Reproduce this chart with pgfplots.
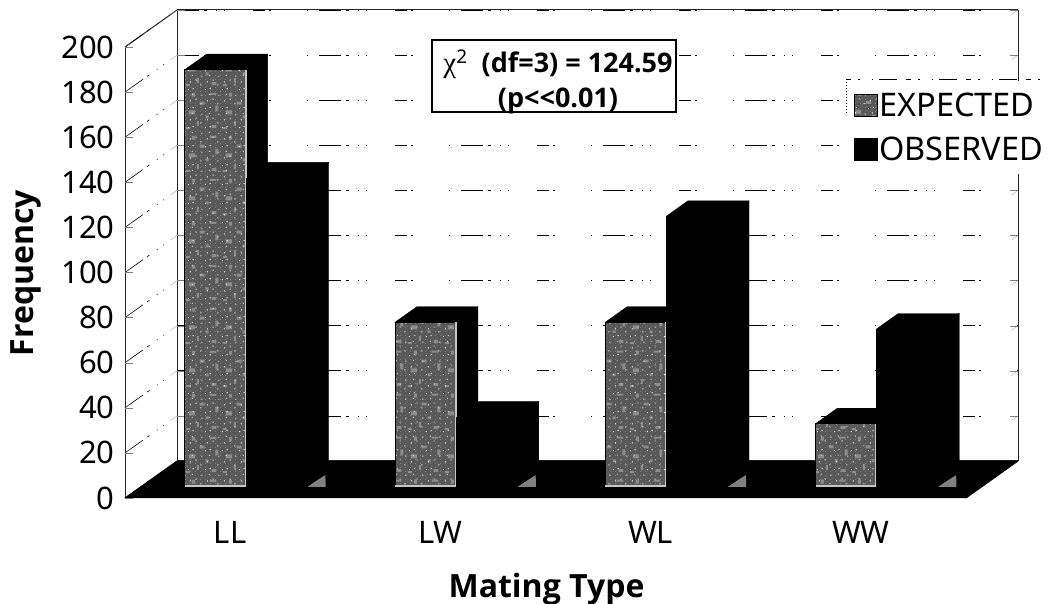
\documentclass[border=0pt]{standalone}
\usepackage{fontspec}
\usepackage{pgfplots}
\pgfplotsset{compat=1.18}
\usetikzlibrary{patterns}
\setmainfont{Noto Sans}
\newfontfamily\boldlabel{Open Sans}
\newfontfamily\symfont{Liberation Serif}

\pgfdeclarepatternformonly{gritblotch}{\pgfqpoint{0pt}{0pt}}{\pgfqpoint{37pt}{43pt}}{\pgfqpoint{37pt}{43pt}}{
  \pgfpathrectangle{\pgfqpoint{1pt}{2pt}}{\pgfqpoint{4pt}{2pt}}
  \pgfpathrectangle{\pgfqpoint{12pt}{5pt}}{\pgfqpoint{2pt}{5pt}}
  \pgfpathrectangle{\pgfqpoint{27pt}{3pt}}{\pgfqpoint{5pt}{3pt}}
  \pgfpathrectangle{\pgfqpoint{21pt}{13pt}}{\pgfqpoint{3pt}{3pt}}
  \pgfpathrectangle{\pgfqpoint{4pt}{17pt}}{\pgfqpoint{6pt}{4pt}}
  \pgfpathrectangle{\pgfqpoint{31pt}{20pt}}{\pgfqpoint{3pt}{6pt}}
  \pgfpathrectangle{\pgfqpoint{15pt}{27pt}}{\pgfqpoint{5pt}{3pt}}
  \pgfpathrectangle{\pgfqpoint{7pt}{35pt}}{\pgfqpoint{3pt}{4pt}}
  \pgfpathrectangle{\pgfqpoint{25pt}{37pt}}{\pgfqpoint{7pt}{2pt}}
  \pgfusepath{fill}
}
\pgfdeclarepatternformonly{gritfine}{\pgfqpoint{0pt}{0pt}}{\pgfqpoint{5pt}{4pt}}{\pgfqpoint{5pt}{4pt}}{
  \pgfpathrectangle{\pgfqpoint{0pt}{0pt}}{\pgfqpoint{1pt}{1pt}}
  \pgfpathrectangle{\pgfqpoint{2pt}{2pt}}{\pgfqpoint{1pt}{1pt}}
  \pgfusepath{fill}
}
\pgfdeclarepatternformonly{gritspeck}{\pgfqpoint{0pt}{0pt}}{\pgfqpoint{17pt}{19pt}}{\pgfqpoint{17pt}{19pt}}{
  \pgfpathrectangle{\pgfqpoint{1pt}{1pt}}{\pgfqpoint{1pt}{1pt}}
  \pgfpathrectangle{\pgfqpoint{6pt}{2pt}}{\pgfqpoint{1pt}{1pt}}
  \pgfpathrectangle{\pgfqpoint{14pt}{6pt}}{\pgfqpoint{1pt}{1pt}}
  \pgfpathrectangle{\pgfqpoint{3pt}{9pt}}{\pgfqpoint{1pt}{1pt}}
  \pgfpathrectangle{\pgfqpoint{9pt}{11pt}}{\pgfqpoint{1pt}{1pt}}
  \pgfpathrectangle{\pgfqpoint{15pt}{15pt}}{\pgfqpoint{1pt}{1pt}}
  \pgfpathrectangle{\pgfqpoint{5pt}{16pt}}{\pgfqpoint{1pt}{1pt}}
  \pgfusepath{fill}
}

\tikzset{
  expected/.style={fill=black!66, draw=black, line width=.7pt,
    postaction={pattern=gritfine, pattern color=gray},
    postaction={pattern=gritblotch, pattern color=gray!90},
    postaction={pattern=gritspeck, pattern color=white}},
}

% side and top of one bar: x from #1 to #2, height #3
\newcommand{\barsides}[3]{
  \addplot3[fill=black, draw=black, forget plot] coordinates {(#2,0.3,0) (#2,0.72,0) (#2,0.72,#3) (#2,0.3,#3)} -- cycle;
  \addplot3[fill=black, draw=black, forget plot] coordinates {(#1,0.3,#3) (#1,0.72,#3) (#2,0.72,#3) (#2,0.3,#3)} -- cycle;
}
% light bottom and right edge of a textured face
\newcommand{\barrim}[3]{
  \addplot3[gray!45, line width=2pt, forget plot] coordinates {(#1,0.3,0.5) (#2,0.3,0.5) (#2,0.3,#3)};
}
% grey glint on the floor beside a bar
\newcommand{\glint}[1]{
  \addplot3[fill=gray, draw=none, forget plot] coordinates {(#1,0.3,0) (#1+0.01,0.62,0) (#1+0.09,0.3,0)} -- cycle;
}

\begin{document}
\begin{tikzpicture}
\path[use as bounding box] (0,0) rectangle (1051pt,604pt);
\begin{axis}[
    at={(125pt,106pt)}, anchor=south west,
    x={(210.25pt,0pt)}, y={(52pt,37pt)}, z={(0pt,2.255pt)},
    xmin=-0.5, xmax=3.5, ymin=0, ymax=1, zmin=0, zmax=200,
    xtick={0,1,2,3}, xticklabels={LL,LW,WL,WW},
    ytick=\empty,
    ztick={0,20,...,200},
    zmajorgrids,
    z grid style={black, line width=.6pt, dash pattern=on 22pt off 5pt on 3pt off 9pt on 1pt off 7pt on 1pt off 28pt on 12pt off 4pt on 2pt off 36pt on 1pt off 11pt},
    axis line style={black!85, line width=1pt},
    major tick length=8pt,
    x tick style={draw=none},
    tick label style={font=\fontsize{31}{31}\selectfont},
    x tick label style={anchor=north, yshift=-20pt},
    z tick label style={anchor=east, xshift=-7pt},
    /pgf/number format/assume math mode=true,
    xlabel={Mating Type}, zlabel={Frequency},
    xlabel style={at={(axis description cs:0.472,-0.186)}, anchor=center, font=\fontsize{32}{32}\selectfont\boldlabel\bfseries},
    zlabel style={at={(axis description cs:-0.111,0.461)}, rotate=0, anchor=center, font=\fontsize{32}{32}\selectfont\boldlabel\bfseries},
    legend style={at={(axis description cs:0.809,0.855)}, anchor=north west, draw=none, fill=white,
      font=\fontsize{32.5}{32.5}\selectfont, row sep=15pt, inner xsep=6pt, inner ysep=10pt,
      /tikz/every even column/.style={column sep=14pt}},
    legend cell align=left,
    legend image code/.code={\path[#1] (0pt,-11pt) rectangle (23pt,11pt);},
    clip=false,
]
% floor
\addplot3[fill=black, draw=black, forget plot] coordinates {(-0.5,0,0) (3.5,0,0) (3.5,1,0) (-0.5,1,0)} -- cycle;
\glint{0.29}
\glint{1.29}
\glint{2.29}
\glint{3.29}

% bars: sides first
\barsides{-0.29}{0}{185}
\barsides{0}{0.29}{137}
\barsides{0.71}{1}{73}
\barsides{1}{1.29}{31}
\barsides{1.71}{2}{73}
\barsides{2}{2.29}{120}
\barsides{2.71}{3}{28}
\barsides{3}{3.29}{70}

% EXPECTED front faces
\addplot3[expected] coordinates {(-0.29,0.3,0) (0,0.3,0) (0,0.3,185) (-0.29,0.3,185)} -- cycle;
\addlegendentry{EXPECTED}
\addplot3[expected, forget plot] coordinates {(0.71,0.3,0) (1,0.3,0) (1,0.3,73) (0.71,0.3,73)} -- cycle;
\addplot3[expected, forget plot] coordinates {(1.71,0.3,0) (2,0.3,0) (2,0.3,73) (1.71,0.3,73)} -- cycle;
\addplot3[expected, forget plot] coordinates {(2.71,0.3,0) (3,0.3,0) (3,0.3,28) (2.71,0.3,28)} -- cycle;
\barrim{-0.29}{0}{185}
\barrim{0.71}{1}{73}
\barrim{1.71}{2}{73}
\barrim{2.71}{3}{28}

% OBSERVED front faces
\addplot3[fill=black, draw=black] coordinates {(0,0.3,0) (0.29,0.3,0) (0.29,0.3,137) (0,0.3,137)} -- cycle;
\addlegendentry{OBSERVED}
\addplot3[fill=black, draw=black, forget plot] coordinates {(1,0.3,0) (1.29,0.3,0) (1.29,0.3,31) (1,0.3,31)} -- cycle;
\addplot3[fill=black, draw=black, forget plot] coordinates {(2,0.3,0) (2.29,0.3,0) (2.29,0.3,120) (2,0.3,120)} -- cycle;
\addplot3[fill=black, draw=black, forget plot] coordinates {(3,0.3,0) (3.29,0.3,0) (3.29,0.3,70) (3,0.3,70)} -- cycle;
\end{axis}
% broken frame left of the legend
\draw[black, line width=.6pt, dash pattern=on 5pt off 7pt on 2pt off 12pt on 1pt off 6pt on 18pt off 9pt] (846pt,525pt) -- (1051pt,525pt);
\draw[black, line width=.6pt, dash pattern=on 1pt off 2pt] (846pt,525pt) -- (846pt,490pt);
\node[draw=black, line width=1.2pt, fill=white, minimum width=244pt, minimum height=72pt] at (554pt,528pt) {};
\node[align=center, inner sep=0pt, font=\fontsize{27}{35}\selectfont\boldlabel\bfseries] at (558pt,522pt)
  {{\mdseries\symfont\fontsize{29}{35}\selectfont\char"03C7}$^{\mathrm{2}}$\ \ (df=3) = 124.59\\(p<{}<0.01)};
\end{tikzpicture}
\end{document}
